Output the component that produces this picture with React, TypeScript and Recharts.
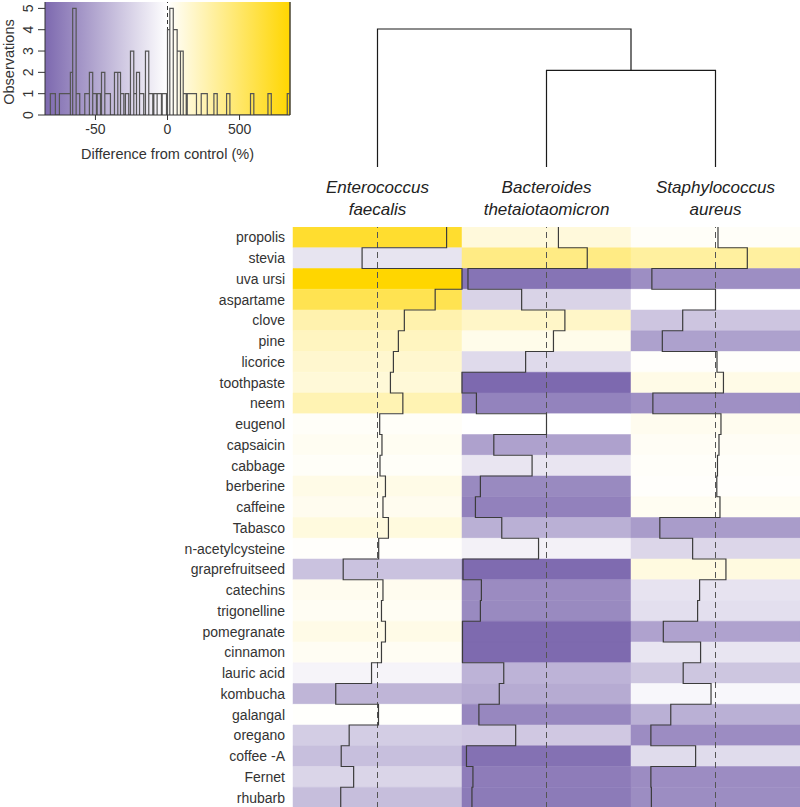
import React from 'react';
import { ComposedChart, Line, XAxis, YAxis, ReferenceArea, ReferenceLine, Label } from 'recharts';

// rows of the heatmap, top to bottom
const compounds = [
  'propolis', 'stevia', 'uva ursi', 'aspartame', 'clove', 'pine', 'licorice', 'toothpaste', 'neem',
  'eugenol', 'capsaicin', 'cabbage', 'berberine', 'caffeine', 'Tabasco', 'n-acetylcysteine',
  'graprefruitseed', 'catechins', 'trigonelline', 'pomegranate', 'cinnamon', 'lauric acid',
  'kombucha', 'galangal', 'oregano', 'coffee -A', 'Fernet', 'rhubarb',
];

const species = [
  ['Enterococcus', 'faecalis'],
  ['Bacteroides', 'thetaiotaomicron'],
  ['Staphylococcus', 'aureus'],
];

// difference from control (%), one value per compound
const eFaecalis = [695, -15.5, 850, 580, 270, 210, 160, 130, 255, 22, 45, 25, 80, 55, 110, 12, -34.5, 55, 40, 80, 40, -6, -42, 10, -28.5, -36.5, -24, -37];
const bTheta = [120, 410, -79, -25, 185, 70, -21, -85, -70.5, 0, -53, -14.5, -66.5, -71.5, -45, -8, -84, -65.5, -66.5, -84.5, -84.5, -43, -47.5, -68, -31, -80.5, -74, -75];
const sAureus = [25, 320, -64, 0, -33, -53.5, 15, 80, -63, 55, 35, 20, 13, 45, -56, -23, 105, -16, -18, -52.5, -15, -32.5, -4.5, -45, -65, -20, -65, -64.5];

// dendrogram merge heights: (B. theta + S. aureus), then E. faecalis
const mergeHeights = [0.7, 1];

// histogram of all differences (%): bin edges and counts
const histLo = [-81.3, -75, -67.4, -65.8, -63.4, -57.4, -54.2, -51.9, -48.8, -45.8, -43.5, -36.8, -34.5, -32.6, -29.2, -25.7, -23.4, -21.5, -19.4, -15.3, -13, -9.5, -7.2, -3.7, 0, 16, 40, 67, 90, 109, 137, 234, 322, 410, 576, 697, 831];
const histHi = [-77.8, -67.4, -65.8, -63.4, -60.9, -54.2, -51.9, -49.3, -46.5, -43.5, -39.6, -34.5, -32.6, -30.3, -26.9, -23.4, -21.5, -19.4, -16.5, -13, -10.2, -7.2, -4.2, -0.7, 16, 40, 67, 90, 109, 130, 201, 276, 345, 433, 599, 720, 849];
const histCount = [1, 1, 2, 5, 1, 1, 2, 1, 1, 2, 1, 2, 2, 1, 1, 3, 1, 2, 1, 3, 1, 1, 1, 1, 4, 5, 4, 3, 3, 1, 1, 1, 1, 1, 1, 1, 1];
const histTicks = [-50, 0, 500];
const obsTicks = [0, 1, 2, 3, 4, 5];

// negative side in %, positive side compressed by 10 -> both span about 85 units
const toScale = (p: number) => (p < 0 ? p : p / 10);
const fromScale = (t: number) => (t < 0 ? t : t * 10);

const PURPLE = [125, 105, 175];
const GOLD = [255, 214, 0];
const colorFor = (p: number) => {
  const t = toScale(p) / 85;
  const target = t < 0 ? PURPLE : GOLD;
  const a = Math.min(1, Math.abs(t));
  const mix = (i: number) => Math.round(255 + (target[i] - 255) * a);
  return `rgb(${mix(0)},${mix(1)},${mix(2)})`;
};

const FONT = '"Liberation Sans", Arial, Helvetica, sans-serif';

const columns = [eFaecalis, bTheta, sAureus];
const leafX = columns.map((_, c) => c + 0.5);

const ObsTick = ({ y, payload }: any) => (
  <text x={33} y={y} transform={`rotate(-90 33 ${y})`} textAnchor="middle" fontSize={14} fill="#333">
    {payload.value}
  </text>
);

const SpeciesTick = ({ x, y, payload }: any) => {
  const idx = leafX.indexOf(payload.value);
  const [genus, epithet] = species[idx] || ['', ''];
  return (
    <text x={x} y={y} textAnchor="middle" fontSize={17} fontStyle="italic" fill="#222">
      <tspan x={x} dy={26}>{genus}</tspan>
      <tspan x={x} dy={21.5}>{epithet}</tspan>
    </text>
  );
};

const ColorKey = () => {
  const points = histLo.flatMap((lo, i) => [
    { x: toScale(lo), y: 0 },
    { x: toScale(lo), y: histCount[i] },
    { x: toScale(histHi[i]), y: histCount[i] },
    { x: toScale(histHi[i]), y: 0 },
  ]);
  return (
    <ComposedChart width={300} height={165} margin={{ top: 2, right: 10, bottom: 0, left: 0 }}>
      <defs>
        <linearGradient id="keyGrad" x1="0" y1="0" x2="1" y2="0">
          <stop offset="0%" stopColor="rgb(125,105,175)" />
          <stop offset="50%" stopColor="#ffffff" />
          <stop offset="100%" stopColor="rgb(255,214,0)" />
        </linearGradient>
      </defs>
      <XAxis
        type="number"
        dataKey="x"
        domain={[-85, 85]}
        allowDataOverflow
        ticks={histTicks.map(toScale)}
        interval={0}
        tickFormatter={(v: number) => String(fromScale(v))}
        height={50}
        tickSize={5}
        tickMargin={4}
        stroke="#333"
        tick={{ fontSize: 14, fill: '#333' }}
      >
        <Label value="Difference from control (%)" position="insideBottom" offset={6} fontSize={14.5} fill="#333" />
      </XAxis>
      <YAxis
        type="number"
        domain={[0, 5.3]}
        allowDataOverflow
        ticks={obsTicks}
        interval={0}
        width={45}
        tickSize={7}
        stroke="#333"
        tick={<ObsTick />}
      >
        <Label
          content={() => (
            <text x={14} y={62} transform="rotate(-90 14 62)" textAnchor="middle" fontSize={14.5} fill="#333">
              Observations
            </text>
          )}
        />
      </YAxis>
      <ReferenceArea x1={-85} x2={85} y1={0} y2={5.3} fill="url(#keyGrad)" fillOpacity={1} />
      <ReferenceLine x={0} stroke="#333" strokeDasharray="4 3" />
      <ReferenceLine x={85} stroke="#4a4530" strokeWidth={1.5} />
      <Line data={points} dataKey="y" stroke="#555" strokeWidth={1.2} dot={false} activeDot={false} isAnimationActive={false} />
    </ComposedChart>
  );
};

const Dendrogram = () => {
  const [hBS, hTop] = mergeHeights;
  const midBS = (leafX[1] + leafX[2]) / 2;
  const inner = [
    { x: leafX[1], y: 0 }, { x: leafX[1], y: hBS }, { x: leafX[2], y: hBS }, { x: leafX[2], y: 0 },
  ];
  const outer = [
    { x: leafX[0], y: 0 }, { x: leafX[0], y: hTop }, { x: midBS, y: hTop }, { x: midBS, y: hBS },
  ];
  return (
    <ComposedChart width={507} height={225} margin={{ top: 29, right: 0, bottom: 28, left: 0 }}>
      <XAxis
        type="number"
        dataKey="x"
        domain={[0, 3]}
        ticks={leafX}
        interval={0}
        height={30}
        tickSize={0}
        tickMargin={0}
        tickLine={false}
        axisLine={false}
        tick={<SpeciesTick />}
      />
      <YAxis type="number" domain={[0, 1]} hide />
      <Line data={inner} dataKey="y" stroke="#1a1a1a" strokeWidth={1.2} dot={false} activeDot={false} isAnimationActive={false} />
      <Line data={outer} dataKey="y" stroke="#1a1a1a" strokeWidth={1.2} dot={false} activeDot={false} isAnimationActive={false} />
    </ComposedChart>
  );
};

const Heatmap = () => {
  const traces = columns.map((vals, c) =>
    vals.flatMap((v, i) => {
      const x = c + 0.5 + toScale(v) / 170;
      return [{ x, y: i }, { x, y: i + 1 }];
    })
  );
  return (
    <ComposedChart width={800} height={581} margin={{ top: 0, right: 0, bottom: 0, left: 0 }}>
      <XAxis type="number" dataKey="x" domain={[0, 3]} allowDataOverflow hide />
      <YAxis
        type="number"
        domain={[0, compounds.length]}
        reversed
        width={293}
        ticks={compounds.map((_, i) => i + 0.5)}
        interval={0}
        tickFormatter={(v: number) => compounds[Math.floor(v)]}
        tickLine={false}
        axisLine={false}
        tick={{ fontSize: 14, fill: '#333' }}
      />
      {columns.map((vals, c) =>
        vals.map((v, i) => (
          <ReferenceArea
            key={`cell-${c}-${i}`}
            x1={c}
            x2={c + 1}
            y1={i}
            y2={i + 1}
            fill={colorFor(v)}
            fillOpacity={1}
            stroke={colorFor(v)}
            strokeWidth={0.5}
          />
        ))
      )}
      {leafX.map((x) => (
        <ReferenceLine key={`mid-${x}`} x={x} stroke="#555" strokeDasharray="6 4" />
      ))}
      {traces.map((pts, c) => (
        <Line
          key={`trace-${c}`}
          data={pts}
          dataKey="y"
          stroke="#3c3c3c"
          strokeWidth={1.2}
          dot={false}
          activeDot={false}
          isAnimationActive={false}
        />
      ))}
    </ComposedChart>
  );
};

export default function App() {
  return (
    <div style={{ position: 'absolute', left: 0, top: 0, width: 800, height: 807, overflow: 'hidden', background: '#fff', fontFamily: FONT }}>
      <div style={{ position: 'absolute', left: 0, top: 0 }}>
        <ColorKey />
      </div>
      <div style={{ position: 'absolute', left: 293, top: 0 }}>
        <Dendrogram />
      </div>
      <div style={{ position: 'absolute', left: 0, top: 227 }}>
        <Heatmap />
      </div>
    </div>
  );
}
